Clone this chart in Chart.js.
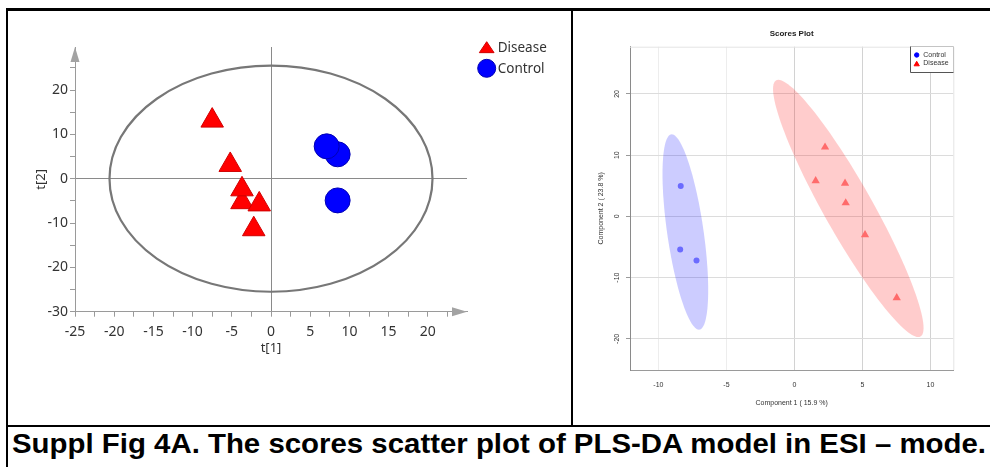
<!DOCTYPE html>
<html>
<head>
<meta charset="utf-8">
<script src="https://cdn.jsdelivr.net/npm/chart.js@4/dist/chart.umd.min.js"></script>
<style>
  body { margin: 0; width: 990px; height: 467px; overflow: hidden; background: #fff; position: relative; }
  .frame { position: absolute; left: 6px; top: 8px; width: 1000px; height: 480px; border-left: 2px solid #000; border-top: 3px solid #000; }
  .divider { position: absolute; left: 571px; top: 10px; width: 2px; height: 416px; background: #000; }
  .hline { position: absolute; left: 6px; top: 425px; width: 990px; height: 2px; background: #000; }
  #caption { position: absolute; left: 12px; top: 430px; font: bold 28px/28px "Liberation Sans", Arial, sans-serif; white-space: nowrap; transform-origin: 0 0; color: #000; }
  #left { position: absolute; left: 9px; top: 11px; }
  #right { position: absolute; left: 574px; top: 11px; }
</style>
</head>
<body>
<div class="frame"></div>
<div class="divider"></div>
<div class="hline"></div>
<canvas id="left" width="562" height="414"></canvas>
<canvas id="right" width="416" height="414"></canvas>
<div id="caption">Suppl Fig 4A. The scores scatter plot of PLS-DA model in ESI – mode.</div>
<script>
// left panel: SIMCA scores t[1] / t[2]
const leftDiseaseX = [-3.7, -3.7, -1.5, -2.2, -5.2, -7.5];
const leftDiseaseY = [-5.3, -2.4, -5.8, -11.4, 3.1, 13.1];
const leftControlX = [8.5, 7.1, 8.5];
const leftControlY = [5.5, 7.3, -4.9];
const leftEllipseRadii = [20.6, 25.5];
const leftXTicks = [-25, -22.5, -20, -17.5, -15, -12.5, -10, -7.5, -5, -2.5, 0, 2.5, 5, 7.5, 10, 12.5, 15, 17.5, 20, 22.5];
const leftYTicks = [-30, -25, -20, -15, -10, -5, 0, 5, 10, 15, 20, 25];

// right panel: mixOmics scores plot
const rightControlX = [-8.36, -8.4, -7.2];
const rightControlY = [4.96, -5.4, -7.2];
const rightDiseaseX = [2.25, 1.56, 3.72, 3.77, 5.19, 7.52];
const rightDiseaseY = [11.3, 5.8, 5.4, 2.2, -3.0, -13.3];
// centre x, centre y, long semi-axis dx, dy, half width along x
const rightControlEllipse = [-8.02, -2.55, -1.0, 15.95, 1.35];
const rightDiseaseEllipse = [3.96, 1.3, -5.14, 21.0, 2.05];
const rightXTicks = [-10, -5, 0, 5, 10];
const rightYTicks = [-20, -10, 0, 10, 20];

const toPoints = (xs, ys) => xs.map((x, i) => ({x: x, y: ys[i]}));

const sansUI = `"Noto Sans", "Open Sans", sans-serif`;
const sansR = `"Liberation Sans", Arial, sans-serif`;

const setTicks = (values) => (axis) => {
  axis.ticks = values.map((v) => ({value: v}));
};

const drawLegendSymbol = (ctx, style, x, y, r, w, fill, stroke) => {
  ctx.save();
  ctx.fillStyle = fill;
  ctx.strokeStyle = stroke;
  ctx.lineWidth = 1;
  const opts = {pointStyle: style, radius: r, rotation: 0, borderWidth: 1};
  if (Chart.helpers.drawPointLegend) {
    Chart.helpers.drawPointLegend(ctx, opts, x, y, w);
  } else {
    Chart.helpers.drawPoint(ctx, opts, x, y);
  }
  ctx.restore();
};

const leftDecor = {
  id: `leftDecor`,
  beforeDatasetsDraw(chart) {
    const {ctx, scales: {x, y}} = chart;
    const cx = x.getPixelForValue(0);
    const cy = y.getPixelForValue(0);
    const rx = Math.abs(x.getPixelForValue(leftEllipseRadii[0]) - cx);
    const ry = Math.abs(y.getPixelForValue(leftEllipseRadii[1]) - cy);
    ctx.save();
    ctx.strokeStyle = `#777`;
    ctx.lineWidth = 2.2;
    ctx.beginPath();
    ctx.ellipse(cx, cy, rx, ry, 0, 0, Math.PI * 2);
    ctx.stroke();
    ctx.restore();
  },
  afterDraw(chart) {
    const {ctx, chartArea: a} = chart;
    ctx.save();
    ctx.fillStyle = `#a3a3a3`;
    ctx.beginPath();
    ctx.moveTo(a.left, a.top);
    ctx.lineTo(a.left - 4.5, a.top + 15);
    ctx.lineTo(a.left + 4.5, a.top + 15);
    ctx.closePath();
    ctx.fill();
    ctx.beginPath();
    ctx.moveTo(a.right, a.bottom);
    ctx.lineTo(a.right - 15, a.bottom - 4.5);
    ctx.lineTo(a.right - 15, a.bottom + 4.5);
    ctx.closePath();
    ctx.fill();

    const ds = chart.data.datasets;
    drawLegendSymbol(ctx, ds[0].pointStyle, 477.7, 38, 7.3, 17, ds[0].backgroundColor, ds[0].borderColor);
    drawLegendSymbol(ctx, ds[1].pointStyle, 477.7, 57.3, 9, 0, ds[1].backgroundColor, ds[1].borderColor);
    ctx.fillStyle = `#333`;
    ctx.font = `13.5px ${sansUI}`;
    ctx.textBaseline = `middle`;
    ctx.fillText(ds[0].label, 488.7, 37.3);
    ctx.fillText(ds[1].label, 488.7, 58.3);
    ctx.restore();
  }
};

new Chart(document.getElementById(`left`), {
  type: `scatter`,
  data: {
    datasets: [
      {
        label: `Disease`,
        data: toPoints(leftDiseaseX, leftDiseaseY),
        pointStyle: `triangle`,
        radius: 13,
        backgroundColor: `#ff0000`,
        borderColor: `#d00000`,
        borderWidth: 1
      },
      {
        label: `Control`,
        data: toPoints(leftControlX, leftControlY),
        pointStyle: `circle`,
        radius: 12.5,
        backgroundColor: `#0000ff`,
        borderColor: `#0000b4`,
        borderWidth: 1
      }
    ]
  },
  options: {
    responsive: false,
    animation: false,
    events: [],
    layout: {padding: {left: 24.2, right: 104, top: 36, bottom: 69.2}},
    plugins: {legend: {display: false}, tooltip: {enabled: false}},
    scales: {
      x: {
        type: `linear`,
        min: -25,
        max: 25,
        afterBuildTicks: setTicks(leftXTicks),
        afterFit: (s) => { s.height = 44.1; },
        ticks: {
          autoSkip: false,
          maxRotation: 0,
          padding: 7,
          color: `#333`,
          font: {family: sansUI, size: 14},
          callback: (v) => (v % 5 === 0 ? String(v) : ``)
        },
        grid: {
          color: (c) => (c.tick && c.tick.value === 0 ? `#8a8a8a` : `rgba(0,0,0,0)`),
          tickColor: `#9a9a9a`,
          tickLength: 5
        },
        border: {color: `#9a9a9a`, width: 1},
        title: {display: true, text: `t[1]`, color: `#333`, font: {family: sansUI, size: 13}, padding: 0}
      },
      y: {
        type: `linear`,
        min: -30,
        max: 29.7,
        afterBuildTicks: setTicks(leftYTicks),
        afterFit: (s) => { s.width = 41.8; },
        ticks: {
          autoSkip: false,
          padding: 2,
          color: `#333`,
          font: {family: sansUI, size: 14},
          callback: (v) => (v % 10 === 0 ? String(v) : ``)
        },
        grid: {
          color: (c) => (c.tick && c.tick.value === 0 ? `#8a8a8a` : `rgba(0,0,0,0)`),
          tickColor: `#9a9a9a`,
          tickLength: 5
        },
        border: {color: `#9a9a9a`, width: 1},
        title: {display: true, text: `t[2]`, color: `#333`, font: {family: sansUI, size: 13}, padding: 0}
      }
    }
  },
  plugins: [leftDecor]
});

const rightDecor = {
  id: `rightDecor`,
  beforeDatasetsDraw(chart) {
    const {ctx, chartArea: a, scales: {x, y}} = chart;
    ctx.save();
    ctx.strokeStyle = `#e4e4e4`;
    ctx.lineWidth = 1;
    ctx.beginPath();
    ctx.moveTo(a.left, a.top + 0.5);
    ctx.lineTo(a.right + 0.5, a.top + 0.5);
    ctx.lineTo(a.right + 0.5, a.bottom);
    ctx.stroke();
    const shapes = [[rightControlEllipse, `rgba(0,0,255,0.2)`], [rightDiseaseEllipse, `rgba(255,0,0,0.2)`]];
    shapes.forEach(([e, color]) => {
      ctx.fillStyle = color;
      ctx.beginPath();
      for (let i = 0; i <= 120; i++) {
        const t = (i / 120) * Math.PI * 2;
        const px = x.getPixelForValue(e[0] + e[2] * Math.cos(t) + e[4] * Math.sin(t));
        const py = y.getPixelForValue(e[1] + e[3] * Math.cos(t));
        if (i === 0) ctx.moveTo(px, py); else ctx.lineTo(px, py);
      }
      ctx.closePath();
      ctx.fill();
    });
    ctx.restore();
  },
  afterDraw(chart) {
    const {ctx} = chart;
    const ds = chart.data.datasets;
    ctx.save();
    ctx.fillStyle = `#fff`;
    ctx.fillRect(336, 35, 44, 26.7);
    ctx.lineWidth = 1;
    ctx.strokeStyle = `#c4c4c4`;
    ctx.beginPath();
    ctx.moveTo(336.5, 35.5);
    ctx.lineTo(379.5, 35.5);
    ctx.lineTo(379.5, 61.5);
    ctx.stroke();
    ctx.strokeStyle = `#555`;
    ctx.beginPath();
    ctx.moveTo(336.5, 35.5);
    ctx.lineTo(336.5, 61.5);
    ctx.lineTo(379.5, 61.5);
    ctx.stroke();
    drawLegendSymbol(ctx, ds[0].pointStyle, 342.7, 44, 2.2, 0, `#0000ff`, `#0000ff`);
    drawLegendSymbol(ctx, ds[1].pointStyle, 342.7, 53.3, 3, 0, `#ff0000`, `#ff0000`);
    ctx.fillStyle = `#333`;
    ctx.font = `7px ${sansR}`;
    ctx.textBaseline = `middle`;
    ctx.fillText(ds[0].label, 349.3, 44);
    ctx.fillText(ds[1].label, 349.3, 52.5);
    ctx.restore();
  }
};

new Chart(document.getElementById(`right`), {
  type: `scatter`,
  data: {
    datasets: [
      {
        label: `Control`,
        data: toPoints(rightControlX, rightControlY),
        pointStyle: `circle`,
        radius: 3,
        backgroundColor: `#6b6bff`,
        borderColor: `#6b6bff`,
        borderWidth: 0
      },
      {
        label: `Disease`,
        data: toPoints(rightDiseaseX, rightDiseaseY),
        pointStyle: `triangle`,
        radius: 4.8,
        backgroundColor: `#ff6b6b`,
        borderColor: `#ff6b6b`,
        borderWidth: 0
      }
    ]
  },
  options: {
    responsive: false,
    animation: false,
    events: [],
    layout: {padding: {left: 22.8, right: 36.7, top: 10, bottom: 18.1}},
    plugins: {
      legend: {display: false},
      tooltip: {enabled: false},
      title: {
        display: true,
        fullSize: false,
        text: `Scores Plot`,
        color: `#222`,
        font: {family: sansR, size: 8, weight: `bold`},
        padding: {top: 7.5, bottom: 8.6}
      }
    },
    scales: {
      x: {
        type: `linear`,
        min: -12.09,
        max: 11.68,
        afterBuildTicks: setTicks(rightXTicks),
        afterFit: (s) => { s.height = 36.9; },
        ticks: {autoSkip: false, maxRotation: 0, padding: 7, color: `#333`, font: {family: sansR, size: 7}},
        grid: {
          color: (c) => (c.tick && c.tick.value < 0 ? `#ededed` : `#d2d2d2`),
          tickColor: `rgba(0,0,0,0)`,
          tickLength: 4
        },
        border: {color: `#9a9a9a`, width: 1},
        title: {display: true, text: `Component 1 ( 15.9 %)`, color: `#333`, font: {family: sansR, size: 7}, padding: 0}
      },
      y: {
        type: `linear`,
        min: -25.08,
        max: 27.71,
        afterBuildTicks: setTicks(rightYTicks),
        afterFit: (s) => { s.width = 33.2; },
        ticks: {autoSkip: false, minRotation: 90, maxRotation: 90, crossAlign: `center`, padding: 3.7, color: `#333`, font: {family: sansR, size: 7}},
        grid: {color: `#dcdcdc`, tickColor: `#9a9a9a`, tickLength: 4},
        border: {color: `#8a8a8a`, width: 1},
        title: {display: true, text: `Component 2 ( 23.8 %)`, color: `#333`, font: {family: sansR, size: 7}, padding: 0}
      }
    }
  },
  plugins: [rightDecor]
});

const caption = document.getElementById(`caption`);
const capWidth = caption.getBoundingClientRect().width;
caption.style.transform = `scaleX(${974 / capWidth})`;
</script>
</body>
</html>
